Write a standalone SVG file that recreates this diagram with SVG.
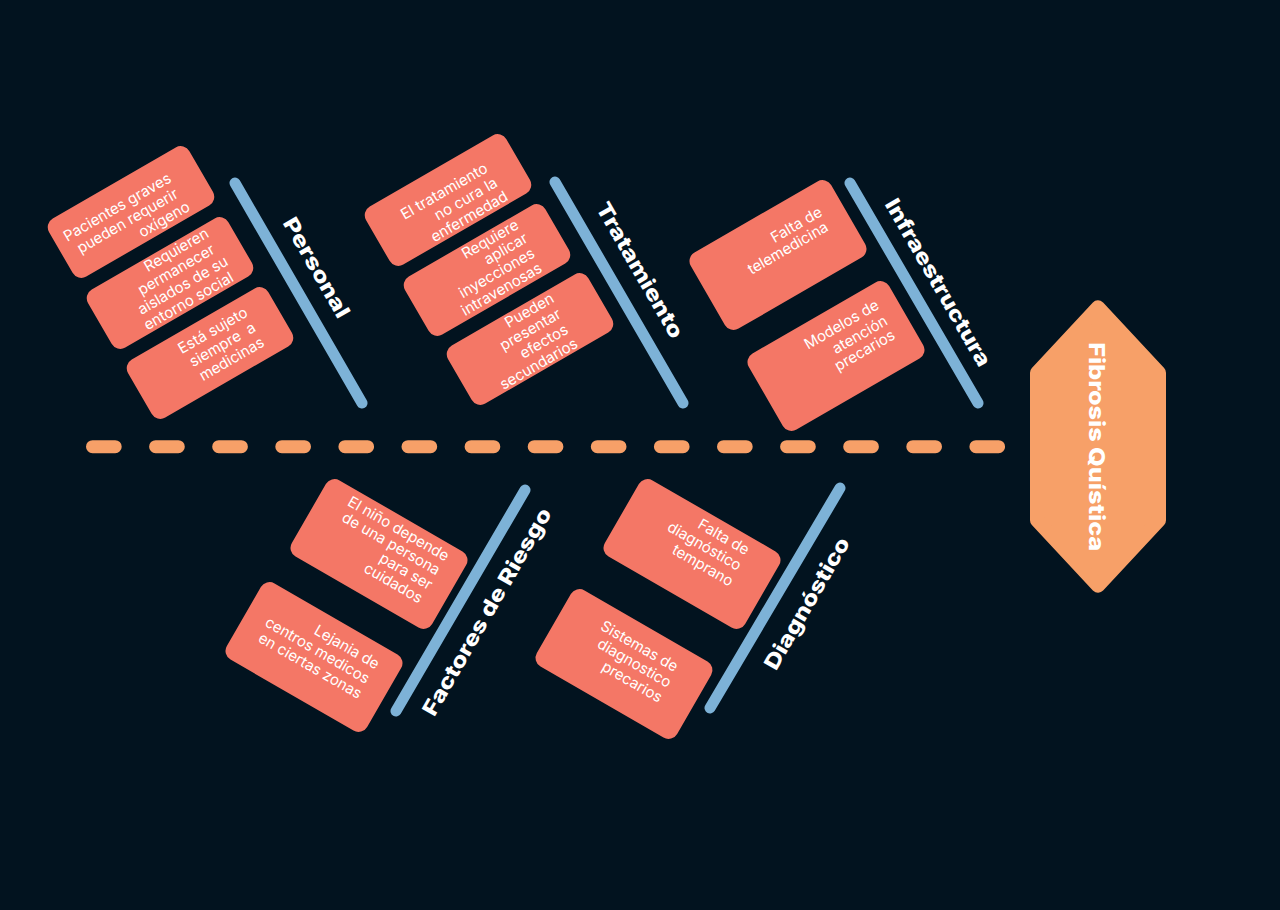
<svg xmlns="http://www.w3.org/2000/svg" width="1280" height="910" viewBox="0 0 1280 910">
<style>
.bg{fill:#02131F}
.box{fill:#F47766}
.bone{stroke:#7DB2D7;stroke-width:11;stroke-linecap:round;fill:none}
.spine{stroke:#F7A068;stroke-width:13;stroke-linecap:round;fill:none;stroke-dasharray:22.7 40.4}
.t{font-family:Inter,"Noto Sans","Liberation Sans",sans-serif;font-size:15px;fill:#FFFFFF;text-anchor:middle}
.lbl{font-family:Inter,"Noto Sans","Liberation Sans",sans-serif;font-size:21px;font-weight:800;fill:#FFFFFF;text-anchor:middle}
</style>
<rect class="bg" x="0" y="0" width="1280" height="910"/>

<g id="connectors">
  <line class="spine" x1="92.5" y1="446.7" x2="1000" y2="446.7"/>
  <line class="bone" x1="235" y1="183" x2="362" y2="403"/>
  <line class="bone" x1="555" y1="182" x2="683" y2="403"/>
  <line class="bone" x1="850" y1="183" x2="978" y2="403"/>
  <line class="bone" x1="525" y1="490" x2="396" y2="711"/>
  <line class="bone" x1="840" y1="488" x2="710" y2="708"/>
</g>

<g id="head">
  <polygon points="1098,307.3 1159,372.8 1159,520.2 1098,585.7 1037,520.2 1037,372.8" fill="#F7A068" stroke="#F7A068" stroke-width="14" stroke-linejoin="round"/>
  <text class="lbl" transform="translate(1088.5,446.7) rotate(90)" textLength="209" lengthAdjust="spacingAndGlyphs" style="font-size:22px">Fibrosis Quística</text>
</g>

<g id="labels">
  <text class="lbl" transform="translate(310.2,271.2) rotate(60)" textLength="112" lengthAdjust="spacingAndGlyphs">Personal</text>
  <text class="lbl" transform="translate(633.5,273.8) rotate(60)" textLength="153" lengthAdjust="spacingAndGlyphs">Tratamiento</text>
  <text class="lbl" transform="translate(931.8,286.2) rotate(60)" textLength="190" lengthAdjust="spacingAndGlyphs">Infraestructura</text>
  <text class="lbl" transform="translate(493.2,615.4) rotate(-60)" textLength="236" lengthAdjust="spacingAndGlyphs">Factores de Riesgo</text>
  <text class="lbl" transform="translate(813.2,607) rotate(-60)" textLength="149" lengthAdjust="spacingAndGlyphs">Diagnóstico</text>
</g>

<g id="personal-1" transform="translate(131,212) rotate(-30)">
  <rect class="box" x="-81" y="-33.5" width="162" height="67" rx="10"/>
  <text class="t"><tspan x="-9.5" y="-6">Pacientes graves</tspan><tspan x="-7.5" y="11">pueden requerir</tspan><tspan x="25" y="28">oxígeno</tspan></text>
</g>
<g id="personal-2" transform="translate(170,283) rotate(-30)">
  <rect class="box" x="-81" y="-33.5" width="162" height="67" rx="10"/>
  <text class="t"><tspan x="22" y="-20.5">Requieren</tspan><tspan x="12" y="-3.5">permanecer</tspan><tspan x="10" y="13.5">aislados de su</tspan><tspan x="7" y="30">entorno social</tspan></text>
</g>
<g id="personal-3" transform="translate(210,353) rotate(-30)">
  <rect class="box" x="-81" y="-33.5" width="162" height="67" rx="10"/>
  <text class="t"><tspan x="13.6" y="-13">Está sujeto</tspan><tspan x="15" y="4">siempre &#160;a</tspan><tspan x="15.7" y="21">medicinas</tspan></text>
</g>

<g id="tratamiento-1" transform="translate(448,200) rotate(-30)">
  <rect class="box" x="-81" y="-33.5" width="162" height="67" rx="10"/>
  <text class="t"><tspan x="1" y="-4.5">El tratamiento</tspan><tspan x="16" y="13">no cura la</tspan><tspan x="10" y="30">enfermedad</tspan></text>
</g>
<g id="tratamiento-2" transform="translate(487,270) rotate(-30)">
  <rect class="box" x="-81" y="-33.5" width="162" height="67" rx="10"/>
  <text class="t"><tspan x="18" y="-20">Requiere</tspan><tspan x="27" y="-4">aplicar</tspan><tspan x="7" y="12.5">inyecciones</tspan><tspan x="3" y="29">intravenosas</tspan></text>
</g>
<g id="tratamiento-3" transform="translate(530,339) rotate(-30)">
  <rect class="box" x="-81" y="-33.5" width="162" height="67" rx="10"/>
  <text class="t"><tspan x="13.7" y="-20">Pueden</tspan><tspan x="5" y="-3">presentar</tspan><tspan x="10.9" y="14">efectos</tspan><tspan x="-5" y="31">secundarios</tspan></text>
</g>

<g id="infraestructura-1" transform="translate(778,255) rotate(-30)">
  <rect class="box" x="-81" y="-44" width="162" height="88" rx="10"/>
  <text class="t"><tspan x="31" y="-12">Falta de</tspan><tspan x="12" y="4">telemedicina</tspan></text>
</g>
<g id="infraestructura-2" transform="translate(836,356) rotate(-30)">
  <rect class="box" x="-81" y="-44" width="162" height="88" rx="10"/>
  <text class="t"><tspan x="20.5" y="-19.5">Modelos de</tspan><tspan x="31.3" y="-1.5">atención</tspan><tspan x="27.7" y="14.5">precarios</tspan></text>
</g>

<g id="factores-1" transform="translate(379,554) rotate(30)">
  <rect class="box" x="-81" y="-44" width="162" height="88" rx="10"/>
  <text class="t"><tspan x="4.3" y="-26.5">El niño depende</tspan><tspan x="5.3" y="-10">de una persona</tspan><tspan x="32" y="6.5">para ser</tspan><tspan x="27" y="23">cuidados</tspan></text>
</g>
<g id="factores-2" transform="translate(314,657) rotate(30)">
  <rect class="box" x="-81" y="-44" width="162" height="88" rx="10"/>
  <text class="t"><tspan x="23.5" y="-20">Lejania de</tspan><tspan x="-0.4" y="-2.5">centros medicos</tspan><tspan x="1" y="14.5">en ciertas zonas</tspan></text>
</g>

<g id="diagnostico-1" transform="translate(692,554) rotate(30)">
  <rect class="box" x="-81" y="-44" width="162" height="88" rx="10"/>
  <text class="t"><tspan x="19" y="-25.5">Falta de</tspan><tspan x="6.9" y="-8">diagnóstico</tspan><tspan x="15" y="9.5">temprano</tspan></text>
</g>
<g id="diagnostico-2" transform="translate(624,664) rotate(30)">
  <rect class="box" x="-81" y="-44" width="162" height="88" rx="10"/>
  <text class="t"><tspan x="4.5" y="-18">Sistemas de</tspan><tspan x="8.5" y="-1">diagnostico</tspan><tspan x="16" y="16.5">precarios</tspan></text>
</g>
</svg>
